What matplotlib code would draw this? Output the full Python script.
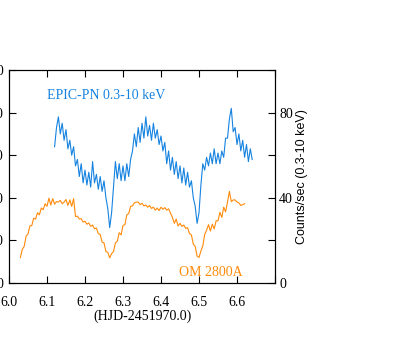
#!/usr/bin/env python3
"""Simultaneous EPIC-PN X-ray and OM 2800A light curves (orbital dips)."""
import numpy as np
import matplotlib
matplotlib.use("Agg")
import matplotlib.pyplot as plt

plt.rcParams.update({
    'font.family': 'serif',
    'font.serif': ['Liberation Serif', 'DejaVu Serif'],
    'font.size': 10,
    'axes.linewidth': 0.8,
    'xtick.direction': 'in',
    'ytick.direction': 'in',
})

BLUE = "#1683e0"
ORANGE = "#ff8a0a"

# EPIC-PN 0.3-10 keV count rate (right axis), sampled every 0.005 d from 6.120
PN_T0, PN_DT = 6.120, 0.005
PN_RATE = [
    64, 73, 78, 70, 75, 67, 72, 63, 67, 60, 64, 55, 58, 50, 56, 47, 53, 46, 52, 45,
    57, 47, 51, 44, 50, 43, 48, 40, 35, 26, 33, 45, 57, 49, 56, 48, 55, 48, 56, 50,
    58, 62, 70, 64, 73, 66, 75, 68, 78, 69, 74, 67, 75, 68, 72, 65, 69, 62, 66, 56,
    62, 53, 59, 51, 57, 49, 55, 47, 54, 46, 52, 45, 48, 40, 36, 28, 33, 46, 56, 53,
    59, 55, 61, 56, 63, 56, 61, 56, 62, 59, 68, 68, 77, 82, 71, 73, 65, 70, 62, 67,
    59, 65, 57, 63, 58,
]

# OM 2800A count rate (left axis), sampled every 0.005 d from 6.030
OM_T0, OM_DT = 6.030, 0.005
OM_RATE = [
    6.0, 7.9, 8.6, 11.0, 11.5, 13.4, 13.5, 15.2, 15.0, 16.5, 16.0, 17.6,
    17.2, 18.6, 18.0, 19.9, 18.3, 19.8, 18.5, 19.1, 19.0, 19.4, 18.6, 19.0,
    19.6, 18.2, 19.5, 18.0, 19.8, 15.6, 15.7, 15.0, 15.1, 14.3, 14.5, 13.8,
    14.1, 13.3, 13.6, 12.7, 12.9, 11.6, 11.4, 9.6, 9.4, 7.4, 7.2, 5.9,
    6.9, 7.4, 9.4, 9.8, 11.8, 11.3, 13.5, 13.7, 16.0, 16.3, 18.0, 18.1,
    18.8, 19.0, 19.0, 18.4, 18.7, 18.1, 18.3, 17.8, 18.2, 17.5, 17.8, 17.1,
    17.6, 17.0, 17.8, 17.3, 17.7, 17.1, 17.4, 16.4, 15.4, 14.0, 15.0, 13.4,
    14.0, 13.3, 13.6, 12.8, 13.0, 11.6, 11.3, 9.1, 8.6, 6.3, 6.0, 7.5,
    8.7, 11.4, 12.4, 13.7, 12.2, 13.8, 12.7, 14.6, 14.6, 16.6, 15.4, 17.8,
    16.7, 19.0, 21.5, 19.1, 19.5, 19.5, 19.0, 18.8, 18.2, 18.4, 18.6,
]

X_TICKS = [6.0, 6.1, 6.2, 6.3, 6.4, 6.5, 6.6, 6.7]
X_LABELS = ["6.0", "6.1", "6.2", "6.3", "6.4", "6.5", "6.6", ""]
OM_TICKS = [0, 10, 20, 30, 40, 50]
PN_TICKS = [0, 20, 40, 60, 80, 100]
PN_LABELS = ["0", "", "40", "", "80", ""]


def main():
    fig = plt.figure(figsize=(4.2, 3.62), dpi=100)
    ax = fig.add_axes([9 / 420, 79 / 362, 266 / 420, 213 / 362])
    ax2 = ax.twinx()

    om_t = OM_T0 + OM_DT * np.arange(len(OM_RATE))
    pn_t = PN_T0 + PN_DT * np.arange(len(PN_RATE))
    ax.plot(om_t, OM_RATE, color=ORANGE, lw=0.8)
    ax2.plot(pn_t, PN_RATE, color=BLUE, lw=0.8)

    ax.set_xlim(6.0, 6.7)
    ax.set_ylim(0, 50)
    ax2.set_ylim(0, 100)

    ax.set_xticks(X_TICKS)
    ax.set_xticklabels(X_LABELS)
    ax.set_yticks(OM_TICKS)
    ax2.set_yticks(PN_TICKS)
    ax2.set_yticklabels(PN_LABELS)
    ax.tick_params(axis='x', top=True, length=5, width=0.8, pad=9)
    ax.tick_params(axis='y', length=5, width=0.8, pad=4)
    ax2.tick_params(axis='y', length=5, width=0.8, pad=3)

    ax.set_xlabel("(HJD-2451970.0)", labelpad=1)
    ax2.set_ylabel("Counts/sec (0.3-10 keV)", family=['Liberation Sans', 'DejaVu Sans'],
                   fontsize=9, labelpad=2)

    ax2.text(6.1, 88, "EPIC-PN 0.3-10 keV", color=BLUE, va='center', ha='left')
    ax2.text(6.448, 4.8, "OM 2800A", color=ORANGE, va='center', ha='left')

    fig.savefig("out.png", dpi=100)
    plt.close(fig)


if __name__ == "__main__":
    main()
